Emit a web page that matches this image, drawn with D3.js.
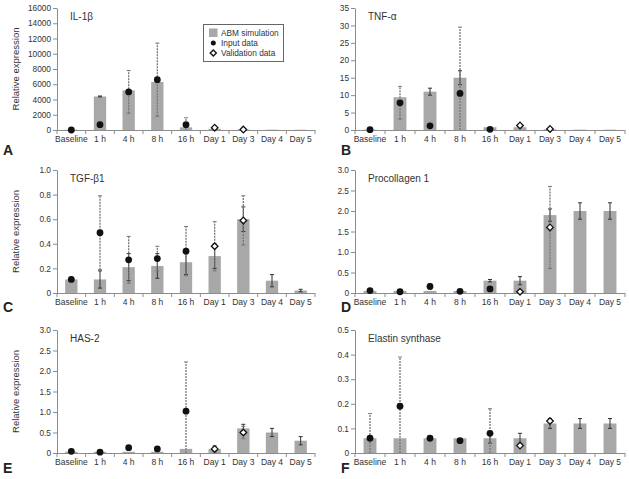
<!DOCTYPE html>
<html><head><meta charset="utf-8">
<script src="https://cdn.jsdelivr.net/npm/d3@7"></script>
<style>
body{margin:0;background:#fff;}
svg{display:block;font-family:"Liberation Sans",Arial,sans-serif;}
</style></head>
<body><svg id="c" width="629" height="479"></svg>
<script>
const categories = ["Baseline","1 h","4 h","8 h","16 h","Day 1","Day 3","Day 4","Day 5"];

// A: IL-1β
const il1bSim      = [50, 4400, 5200, 6300, 350, 150, 60, 40, 30];
const il1bSimErr   = [0, 60, 0, 0, 0, 0, 0, 0, 0];
const il1bInput    = [0, 700, 5000, 6600, 700, null, null, null, null];
const il1bInputErr = [0, 0, 2800, 4800, 900, 0, 0, 0, 0];
const il1bValid    = [null, null, null, null, null, 300, 60, null, null];
const il1bValidErr = [0, 0, 0, 0, 0, 0, 0, 0, 0];
const il1bTicks    = [0, 2000, 4000, 6000, 8000, 10000, 12000, 14000, 16000];

// B: TNF-α
const tnfSim      = [0.1, 9.4, 11, 15, 0.8, 0.8, 0.2, 0.1, 0.1];
const tnfSimErr   = [0, 0, 1, 2, 0, 0, 0, 0, 0];
const tnfInput    = [0.1, 7.8, 1.2, 10.5, 0.2, null, null, null, null];
const tnfInputErr = [0, 4.7, 0, 19, 0, 0, 0, 0, 0];
const tnfValid    = [null, null, null, null, null, 1.3, 0.3, null, null];
const tnfValidErr = [0, 0, 0, 0, 0, 0, 0, 0, 0];
const tnfTicks    = [0, 5, 10, 15, 20, 25, 30, 35];

// C: TGF-β1
const tgfSim      = [0.11, 0.11, 0.21, 0.22, 0.25, 0.30, 0.60, 0.10, 0.02];
const tgfSimErr   = [0, 0.07, 0.11, 0.10, 0.10, 0.10, 0.10, 0.05, 0.01];
const tgfInput    = [0.11, 0.49, 0.27, 0.28, 0.34, null, null, null, null];
const tgfInputErr = [0, 0.30, 0.19, 0.10, 0.20, 0, 0, 0, 0];
const tgfValid    = [null, null, null, null, null, 0.38, 0.59, null, null];
const tgfValidErr = [0, 0, 0, 0, 0, 0.20, 0.20, 0, 0];
const tgfTicks    = [0, 0.2, 0.4, 0.6, 0.8, 1.0];

// D: Procollagen 1
const procolSim      = [0.05, 0.05, 0.05, 0.05, 0.3, 0.3, 1.9, 2.0, 2.0];
const procolSimErr   = [0, 0, 0, 0, 0.03, 0.1, 0.15, 0.2, 0.2];
const procolInput    = [0.06, 0.03, 0.16, 0.04, 0.1, null, null, null, null];
const procolInputErr = [0, 0, 0.07, 0, 0, 0, 0, 0, 0];
const procolValid    = [null, null, null, null, null, 0.03, 1.6, null, null];
const procolValidErr = [0, 0, 0, 0, 0, 0, 1.0, 0, 0];
const procolTicks    = [0, 0.5, 1.0, 1.5, 2.0, 2.5, 3.0];

// E: HAS-2
const has2Sim      = [0.03, 0.03, 0.03, 0.03, 0.1, 0.1, 0.6, 0.5, 0.3];
const has2SimErr   = [0, 0, 0, 0, 0, 0.05, 0.1, 0.1, 0.1];
const has2Input    = [0.04, 0.02, 0.13, 0.1, 1.02, null, null, null, null];
const has2InputErr = [0, 0, 0, 0, 1.2, 0, 0, 0, 0];
const has2Valid    = [null, null, null, null, null, 0.1, 0.5, null, null];
const has2ValidErr = [0, 0, 0, 0, 0, 0.08, 0.15, 0, 0];
const has2Ticks    = [0, 0.5, 1.0, 1.5, 2.0, 2.5, 3.0];

// F: Elastin synthase
const elastinSim      = [0.06, 0.06, 0.06, 0.06, 0.06, 0.06, 0.12, 0.12, 0.12];
const elastinSimErr   = [0, 0, 0, 0, 0.02, 0.02, 0.02, 0.02, 0.02];
const elastinInput    = [0.06, 0.19, 0.06, 0.05, 0.08, null, null, null, null];
const elastinInputErr = [0.1, 0.2, 0, 0, 0.1, 0, 0, 0, 0];
const elastinValid    = [null, null, null, null, null, 0.03, 0.13, null, null];
const elastinValidErr = [0, 0, 0, 0, 0, 0, 0, 0, 0];
const elastinTicks    = [0, 0.1, 0.2, 0.3, 0.4, 0.5];

const dec = d => d === 0 ? "0" : d3.format(".1f")(d);
const panels = [
  {letter:"A", title:"IL-1β", sim:il1bSim, simErr:il1bSimErr, inp:il1bInput, inpErr:il1bInputErr, val:il1bValid, valErr:il1bValidErr, ticks:il1bTicks, fmt:d=>String(d), col:0, row:0},
  {letter:"B", title:"TNF-α", sim:tnfSim, simErr:tnfSimErr, inp:tnfInput, inpErr:tnfInputErr, val:tnfValid, valErr:tnfValidErr, ticks:tnfTicks, fmt:d=>String(d), col:1, row:0},
  {letter:"C", title:"TGF-β1", sim:tgfSim, simErr:tgfSimErr, inp:tgfInput, inpErr:tgfInputErr, val:tgfValid, valErr:tgfValidErr, ticks:tgfTicks, fmt:dec, col:0, row:1},
  {letter:"D", title:"Procollagen 1", sim:procolSim, simErr:procolSimErr, inp:procolInput, inpErr:procolInputErr, val:procolValid, valErr:procolValidErr, ticks:procolTicks, fmt:dec, col:1, row:1},
  {letter:"E", title:"HAS-2", sim:has2Sim, simErr:has2SimErr, inp:has2Input, inpErr:has2InputErr, val:has2Valid, valErr:has2ValidErr, ticks:has2Ticks, fmt:dec, col:0, row:2},
  {letter:"F", title:"Elastin synthase", sim:elastinSim, simErr:elastinSimErr, inp:elastinInput, inpErr:elastinInputErr, val:elastinValid, valErr:elastinValidErr, ticks:elastinTicks, fmt:dec, col:1, row:2}
];

const colX = [[57, 315], [355, 625]];
const rowY = [[8, 130], [170, 293], [330, 453]];
const letterY = [155, 312, 473];
const letterX = [3, 341];
const textCol = "#333";
const axisCol = "#8c8c8c";
const barCol = "#a8a8a8";

const svg = d3.select("#c");

panels.forEach(p => {
  const [x0, x1] = colX[p.col];
  const [yTop, yBot] = rowY[p.row];
  const g = svg.append("g");
  const x = d3.scaleBand().domain(categories).range([x0, x1]).padding(0);
  const y = d3.scaleLinear().domain([0, p.ticks[p.ticks.length-1]]).range([yBot, yTop]).clamp(true);
  const bw = x.bandwidth() * 0.43;
  const cx = c => x(c) + x.bandwidth()/2;

  // y axis
  const ya = d3.axisLeft(y).tickValues(p.ticks).tickFormat(p.fmt).tickSize(4).tickSizeOuter(0);
  const yg = g.append("g").attr("transform", `translate(${x0},0)`).call(ya);
  yg.select(".domain").attr("stroke", axisCol);
  yg.selectAll(".tick line").attr("stroke", axisCol);
  yg.selectAll(".tick text").attr("fill", textCol).attr("font-size", 8.3).attr("x", -6)
    .attr("font-family", "Liberation Sans, Arial, sans-serif");

  // bars
  g.selectAll("rect.bar").data(categories).join("rect")
    .attr("x", c => cx(c) - bw/2)
    .attr("width", bw)
    .attr("y", (c,i) => y(p.sim[i]))
    .attr("height", (c,i) => yBot - y(p.sim[i]))
    .attr("fill", barCol);

  // x axis
  g.append("line").attr("x1", x0).attr("x2", x1).attr("y1", yBot + 0.5).attr("y2", yBot + 0.5).attr("stroke", axisCol);
  const bounds = categories.map(c => x(c)).concat([x1]);
  g.selectAll("line.xt").data(bounds).join("line")
    .attr("x1", d => d).attr("x2", d => d).attr("y1", yBot).attr("y2", yBot + 4).attr("stroke", axisCol);
  g.selectAll("text.xl").data(categories).join("text")
    .attr("x", c => cx(c)).attr("y", yBot + 12)
    .attr("text-anchor", "middle").attr("font-size", 8.5).attr("fill", textCol).text(c => c);

  // error bar helper
  function errBar(c, v, e, dashed) {
    if (v == null || !e) return;
    const xx = cx(c);
    const yl = y(v - e), yh = y(v + e);
    const col = dashed ? "#777" : "#333";
    g.append("line").attr("x1", xx).attr("x2", xx).attr("y1", yl).attr("y2", yh)
      .attr("stroke", col).attr("stroke-width", dashed ? 1.3 : 1)
      .attr("stroke-dasharray", dashed ? "2,1" : null);
    [v - e, v + e].forEach(t => {
      if (t < 0) return;
      g.append("line").attr("x1", xx - 2).attr("x2", xx + 2).attr("y1", y(t)).attr("y2", y(t))
        .attr("stroke", col).attr("stroke-width", 1);
    });
  }

  categories.forEach((c, i) => errBar(c, p.sim[i], p.simErr[i], false));
  categories.forEach((c, i) => errBar(c, p.inp[i], p.inpErr[i], true));
  categories.forEach((c, i) => errBar(c, p.val[i], p.valErr[i], true));

  // input dots
  g.selectAll("circle.inp").data(categories.filter((c,i) => p.inp[i] != null)).join("circle")
    .attr("cx", c => cx(c)).attr("cy", c => y(p.inp[categories.indexOf(c)]))
    .attr("r", 3.4).attr("fill", "#111");

  // validation diamonds
  g.selectAll("path.val").data(categories.filter((c,i) => p.val[i] != null)).join("path")
    .attr("d", d3.symbol(d3.symbolDiamond2, 28)())
    .attr("transform", c => `translate(${cx(c)},${y(p.val[categories.indexOf(c)])})`)
    .attr("fill", "#fff").attr("stroke", "#111").attr("stroke-width", 1.3);

  // title
  g.append("text").attr("x", x0 + 13).attr("y", yTop + 12).attr("font-size", 10).attr("fill", textCol).text(p.title);

  // panel letter
  g.append("text").attr("x", letterX[p.col]).attr("y", letterY[p.row])
    .attr("font-size", 14).attr("font-weight", "bold").attr("fill", "#222").text(p.letter);

  // y title on left column
  if (p.col === 0) {
    g.append("text").attr("transform", `translate(19,${(yTop + yBot)/2}) rotate(-90)`)
      .attr("text-anchor", "middle").attr("font-size", 9.5).attr("fill", textCol).text("Relative expression");
  }
});

// legend
const lg = svg.append("g");
lg.append("rect").attr("x", 203.5).attr("y", 24.5).attr("width", 80).attr("height", 37)
  .attr("fill", "#fff").attr("stroke", "#666");
lg.append("rect").attr("x", 209).attr("y", 28.5).attr("width", 8.5).attr("height", 8.5).attr("fill", barCol);
lg.append("text").attr("x", 221).attr("y", 36).attr("font-size", 8.3).attr("fill", textCol).text("ABM simulation");
lg.append("circle").attr("cx", 213.3).attr("cy", 43).attr("r", 2.5).attr("fill", "#111");
lg.append("text").attr("x", 221).attr("y", 46).attr("font-size", 8.3).attr("fill", textCol).text("Input data");
lg.append("path").attr("d", d3.symbol(d3.symbolDiamond2, 24)()).attr("transform", "translate(213.3,53)")
  .attr("fill", "#fff").attr("stroke", "#111").attr("stroke-width", 1.3);
lg.append("text").attr("x", 221).attr("y", 56).attr("font-size", 8.3).attr("fill", textCol).text("Validation data");
</script></body></html>
